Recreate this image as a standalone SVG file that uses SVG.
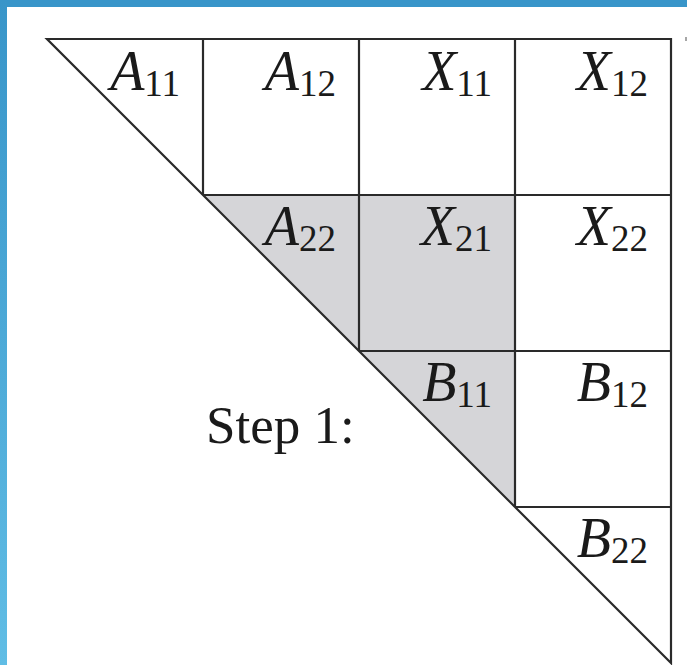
<svg xmlns="http://www.w3.org/2000/svg" width="687" height="665" viewBox="0 0 687 665">
  <defs>
    <linearGradient id="sideGrad" x1="0" y1="0" x2="0" y2="1">
      <stop offset="0" stop-color="#3895c9"/>
      <stop offset="1" stop-color="#60bde5"/>
    </linearGradient>
  </defs>
  <style>
    .grid { fill: none; stroke: #2a2a2a; stroke-width: 2.2; stroke-linejoin: miter; }
    .shade { fill: #d5d5d8; stroke: none; }
    .lbl { font-family: 'Liberation Serif', 'Times New Roman', serif; fill: #1a1a1a; text-anchor: end; }
    .v { font-style: italic; font-size: 56px; }
    .s { font-size: 37px; }
    .step { font-family: 'Liberation Serif', 'Times New Roman', serif; font-size: 53px; fill: #1a1a1a; }
  </style>
  <rect x="0" y="0" width="687" height="665" fill="#ffffff"/>
  <rect x="0" y="0" width="687" height="7" fill="#3895c9"/>
  <rect x="0" y="0" width="7" height="665" fill="url(#sideGrad)"/>

  <g id="shading">
    <polygon class="shade" points="203,195 359,195 359,351"/>
    <rect class="shade" x="359" y="195" width="156" height="156"/>
    <polygon class="shade" points="359,351 515,351 515,507"/>
  </g>

  <g id="connectors">
    <polygon class="grid" points="47,39 671,39 671,663"/>
    <line class="grid" x1="203" y1="39" x2="203" y2="195"/>
    <line class="grid" x1="359" y1="39" x2="359" y2="351"/>
    <line class="grid" x1="515" y1="39" x2="515" y2="507"/>
    <line class="grid" x1="203" y1="195" x2="671" y2="195"/>
    <line class="grid" x1="359" y1="351" x2="671" y2="351"/>
    <line class="grid" x1="515" y1="507" x2="671" y2="507"/>
    <line x1="686" y1="37" x2="686" y2="41" stroke="#888" stroke-width="1.5"/>
  </g>

  <g id="A11"><text class="lbl" x="180" y="90"><tspan class="v">A</tspan><tspan class="s" dy="6">11</tspan></text></g>
  <g id="A12"><text class="lbl" x="336" y="90"><tspan class="v">A</tspan><tspan class="s" dy="6">12</tspan></text></g>
  <g id="X11"><text class="lbl" x="492" y="90"><tspan class="v">X</tspan><tspan class="s" dy="6">11</tspan></text></g>
  <g id="X12"><text class="lbl" x="648" y="90"><tspan class="v">X</tspan><tspan class="s" dy="6">12</tspan></text></g>

  <g id="A22"><text class="lbl" x="336" y="245"><tspan class="v">A</tspan><tspan class="s" dy="6">22</tspan></text></g>
  <g id="X21"><text class="lbl" x="492" y="245"><tspan class="v">X</tspan><tspan class="s" dy="6">21</tspan></text></g>
  <g id="X22"><text class="lbl" x="648" y="245"><tspan class="v">X</tspan><tspan class="s" dy="6">22</tspan></text></g>

  <g id="B11"><text class="lbl" x="492" y="401"><tspan class="v">B</tspan><tspan class="s" dy="6">11</tspan></text></g>
  <g id="B12"><text class="lbl" x="648" y="401"><tspan class="v">B</tspan><tspan class="s" dy="6">12</tspan></text></g>

  <g id="B22"><text class="lbl" x="648" y="557"><tspan class="v">B</tspan><tspan class="s" dy="6">22</tspan></text></g>

  <g id="step"><text class="step" x="206" y="443">Step 1:</text></g>
</svg>
